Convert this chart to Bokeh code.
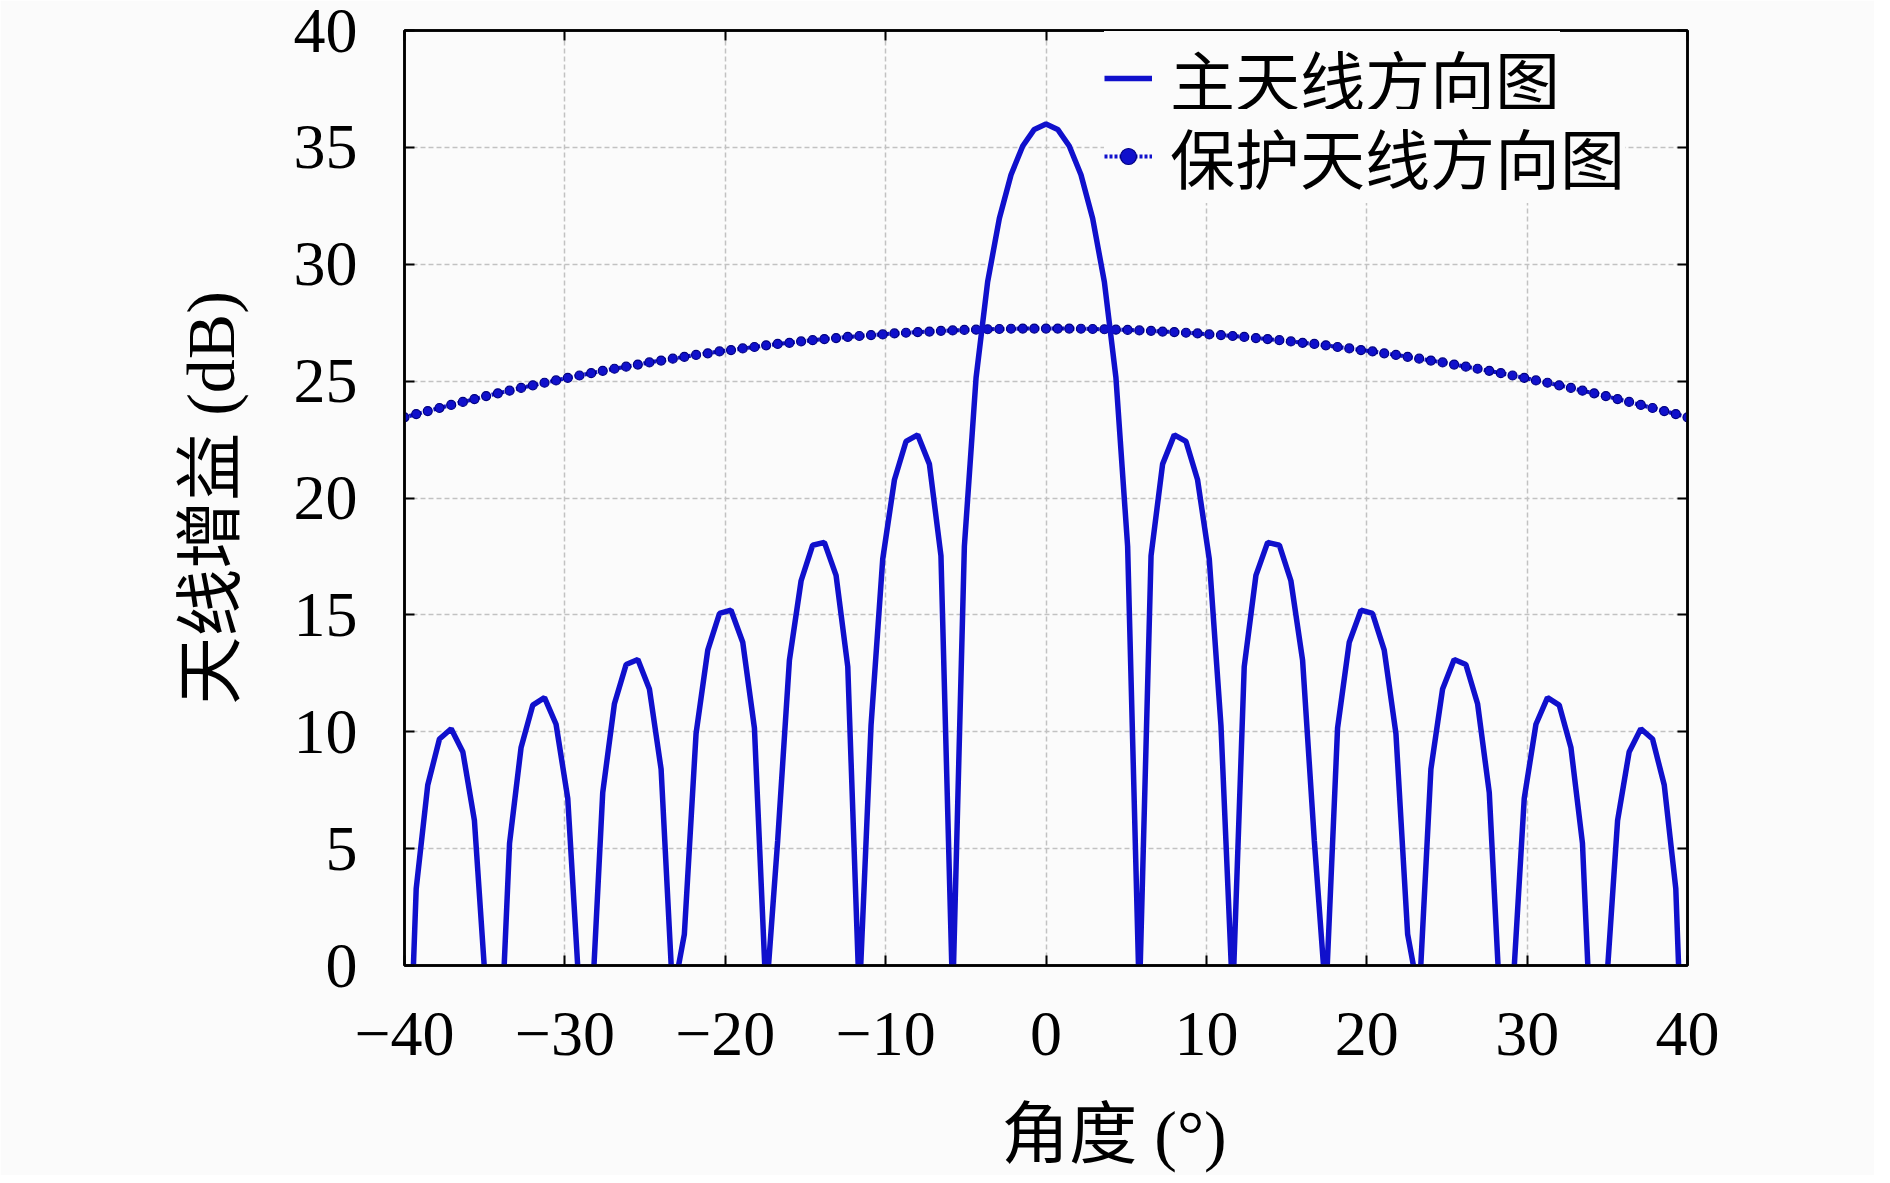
from bokeh.plotting import figure
from bokeh.models import Range1d, FixedTicker, LinearAxis, Legend, LegendItem
from bokeh.embed import file_html
from bokeh.resources import INLINE

# ---- data ----
angles = [-40.00, -39.27, -38.55, -37.82, -37.09, -36.36, -35.64, -34.91, -34.18, -33.45,
          -32.73, -32.00, -31.27, -30.55, -29.82, -29.09, -28.36, -27.64, -26.91, -26.18,
          -25.45, -24.73, -24.00, -23.27, -22.55, -21.82, -21.09, -20.36, -19.64, -18.91,
          -18.18, -17.45, -16.73, -16.00, -15.27, -14.55, -13.82, -13.09, -12.36, -11.64,
          -10.91, -10.18, -9.45, -8.73, -8.00, -7.27, -6.55, -5.82, -5.09, -4.36,
          -3.64, -2.91, -2.18, -1.45, -0.73, 0.00, 0.73, 1.45, 2.18, 2.91,
          3.64, 4.36, 5.09, 5.82, 6.55, 7.27, 8.00, 8.73, 9.45, 10.18,
          10.91, 11.64, 12.36, 13.09, 13.82, 14.55, 15.27, 16.00, 16.73, 17.45,
          18.18, 18.91, 19.64, 20.36, 21.09, 21.82, 22.55, 23.27, 24.00, 24.73,
          25.45, 26.18, 26.91, 27.64, 28.36, 29.09, 29.82, 30.55, 31.27, 32.00,
          32.73, 33.45, 34.18, 34.91, 35.64, 36.36, 37.09, 37.82, 38.55, 39.27, 40.00]

main_gain = [-10.55, 3.29, 7.72, 9.69, 10.13, 9.13, 6.20, -1.23, -6.18, 5.23,
             9.33, 11.14, 11.46, 10.32, 7.15, -1.29, -2.37, 7.40, 11.20, 12.88,
             13.09, 11.83, 8.40, -1.34, 1.34, 9.92, 13.49, 15.06, 15.20, 13.83,
             10.15, -1.38, 5.35, 13.05, 16.46, 17.98, 18.10, 16.69, 12.78, -1.41,
             10.26, 17.39, 20.78, 22.42, 22.70, 21.45, 17.53, -1.43, 17.93, 25.15,
             29.24, 31.96, 33.83, 35.06, 35.77, 36.00, 35.77, 35.06, 33.83, 31.96,
             29.24, 25.15, 17.93, -1.43, 17.53, 21.45, 22.70, 22.42, 20.78, 17.39,
             10.26, -1.41, 12.78, 16.69, 18.10, 17.98, 16.46, 13.05, 5.35, -1.38,
             10.15, 13.83, 15.20, 15.06, 13.49, 9.92, 1.34, -1.34, 8.40, 11.83,
             13.09, 12.88, 11.20, 7.40, -2.37, -1.29, 7.15, 10.32, 11.46, 11.14,
             9.33, 5.23, -6.18, -1.23, 6.20, 9.13, 10.13, 9.69, 7.72, 3.29, -10.55]

guard_gain = [23.45, 23.59, 23.72, 23.85, 23.98, 24.11, 24.23, 24.36, 24.48, 24.59,
              24.71, 24.82, 24.93, 25.03, 25.14, 25.24, 25.34, 25.44, 25.53, 25.62,
              25.71, 25.80, 25.88, 25.96, 26.04, 26.12, 26.19, 26.27, 26.33, 26.40,
              26.46, 26.53, 26.59, 26.64, 26.70, 26.75, 26.80, 26.84, 26.89, 26.93,
              26.97, 27.00, 27.04, 27.07, 27.10, 27.12, 27.15, 27.17, 27.19, 27.20,
              27.22, 27.23, 27.24, 27.25, 27.25, 27.25, 27.25, 27.25, 27.24, 27.23,
              27.22, 27.20, 27.19, 27.17, 27.15, 27.12, 27.10, 27.07, 27.04, 27.00,
              26.97, 26.93, 26.89, 26.84, 26.80, 26.75, 26.70, 26.64, 26.59, 26.53,
              26.46, 26.40, 26.33, 26.27, 26.19, 26.12, 26.04, 25.96, 25.88, 25.80,
              25.71, 25.62, 25.53, 25.44, 25.34, 25.24, 25.14, 25.03, 24.93, 24.82,
              24.71, 24.59, 24.48, 24.36, 24.23, 24.11, 23.98, 23.85, 23.72, 23.59, 23.45]

x_ticks = [-40, -30, -20, -10, 0, 10, 20, 30, 40]
x_tick_labels = ["\u221240", "\u221230", "\u221220", "\u221210", "0", "10", "20", "30", "40"]
y_ticks = [0, 5, 10, 15, 20, 25, 30, 35, 40]
x_label = "角度 (°)"
y_label = "天线增益 (dB)"
series_names = ["主天线方向图", "保护天线方向图"]

# ---- style ----
BG = "#fbfbfb"
BLUE = "#1010cc"
FONT = "'Liberation Serif', 'Noto Sans CJK SC'"
FS = "64px"
LFS = "68px"

p = figure(width=1874, height=1175, output_backend="svg", toolbar_location=None,
           x_range=Range1d(-40, 40), y_range=Range1d(0, 40),
           min_border_left=404, min_border_right=187, min_border_top=30, min_border_bottom=205,
           background_fill_color=BG, border_fill_color=BG)
p.outline_line_color = "black"
p.outline_line_width = 2.5

def style_axis(ax, ticks):
    ax.ticker = FixedTicker(ticks=ticks)
    ax.major_tick_in = 10
    ax.major_tick_out = 0
    ax.minor_tick_line_color = None
    ax.axis_line_color = "black"
    ax.axis_line_width = 2.5
    ax.major_tick_line_color = "black"
    ax.major_tick_line_width = 2
    ax.major_label_text_font = FONT
    ax.major_label_text_font_size = FS
    ax.major_label_text_color = "black"

xa = p.xaxis[0]
ya = p.yaxis[0]
style_axis(xa, x_ticks)
style_axis(ya, y_ticks)
xa.major_label_overrides = {t: s for t, s in zip(x_ticks, x_tick_labels)}
xa.major_label_standoff = 47
ya.major_label_standoff = 47

# x label is set slightly right of centre in the reference; ideographic spaces shift it
xa.axis_label = "\u3000\u3000" + x_label
xa.axis_label_text_font = FONT
xa.axis_label_text_font_size = LFS
xa.axis_label_text_font_style = "normal"
xa.axis_label_text_color = "black"
xa.axis_label_standoff = 39

ya.axis_label = y_label
ya.axis_label_text_font = FONT
ya.axis_label_text_font_size = LFS
ya.axis_label_text_font_style = "normal"
ya.axis_label_text_color = "black"
ya.axis_label_standoff = 42

for side, ticks in (("right", y_ticks), ("above", x_ticks)):
    ax = LinearAxis()
    style_axis(ax, ticks)
    ax.major_label_overrides = {t: "" for t in ticks}
    ax.major_label_text_font_size = "1px"
    ax.major_label_text_color = None
    ax.major_label_standoff = 0
    p.add_layout(ax, side)

for g, ticks in ((p.xgrid[0], x_ticks), (p.ygrid[0], y_ticks)):
    g.ticker = FixedTicker(ticks=ticks)
    g.grid_line_color = "#c2c2c2"
    g.grid_line_dash = "5 3"
    g.grid_line_width = 1.5

r_guard_l = p.line(angles, guard_gain, line_color=BLUE, line_width=4, line_dash="3 2")
r_guard_m = p.scatter(angles, guard_gain, marker="circle", size=9,
                      fill_color=BLUE, line_color="#000080", line_width=1.2)
r_main = p.line(angles, main_gain, line_color=BLUE, line_width=5.5)

def make_legend(item, bottom):
    lg = Legend(items=[item], location=(700, bottom))
    lg.border_line_color = None
    lg.background_fill_color = BG
    lg.background_fill_alpha = 1.0
    lg.padding = 0
    lg.margin = 0
    lg.spacing = 0
    lg.glyph_width = 48
    lg.glyph_height = 40
    lg.label_height = 64
    lg.label_standoff = 18
    lg.label_text_font = FONT
    lg.label_text_font_size = "65px"
    lg.label_text_color = "black"
    return lg

p.add_layout(make_legend(LegendItem(label=series_names[0], renderers=[r_main]), 840))
p.add_layout(make_legend(LegendItem(label=series_names[1], renderers=[r_guard_l, r_guard_m]), 762))

open("out.html", "w").write(file_html(p, INLINE))
